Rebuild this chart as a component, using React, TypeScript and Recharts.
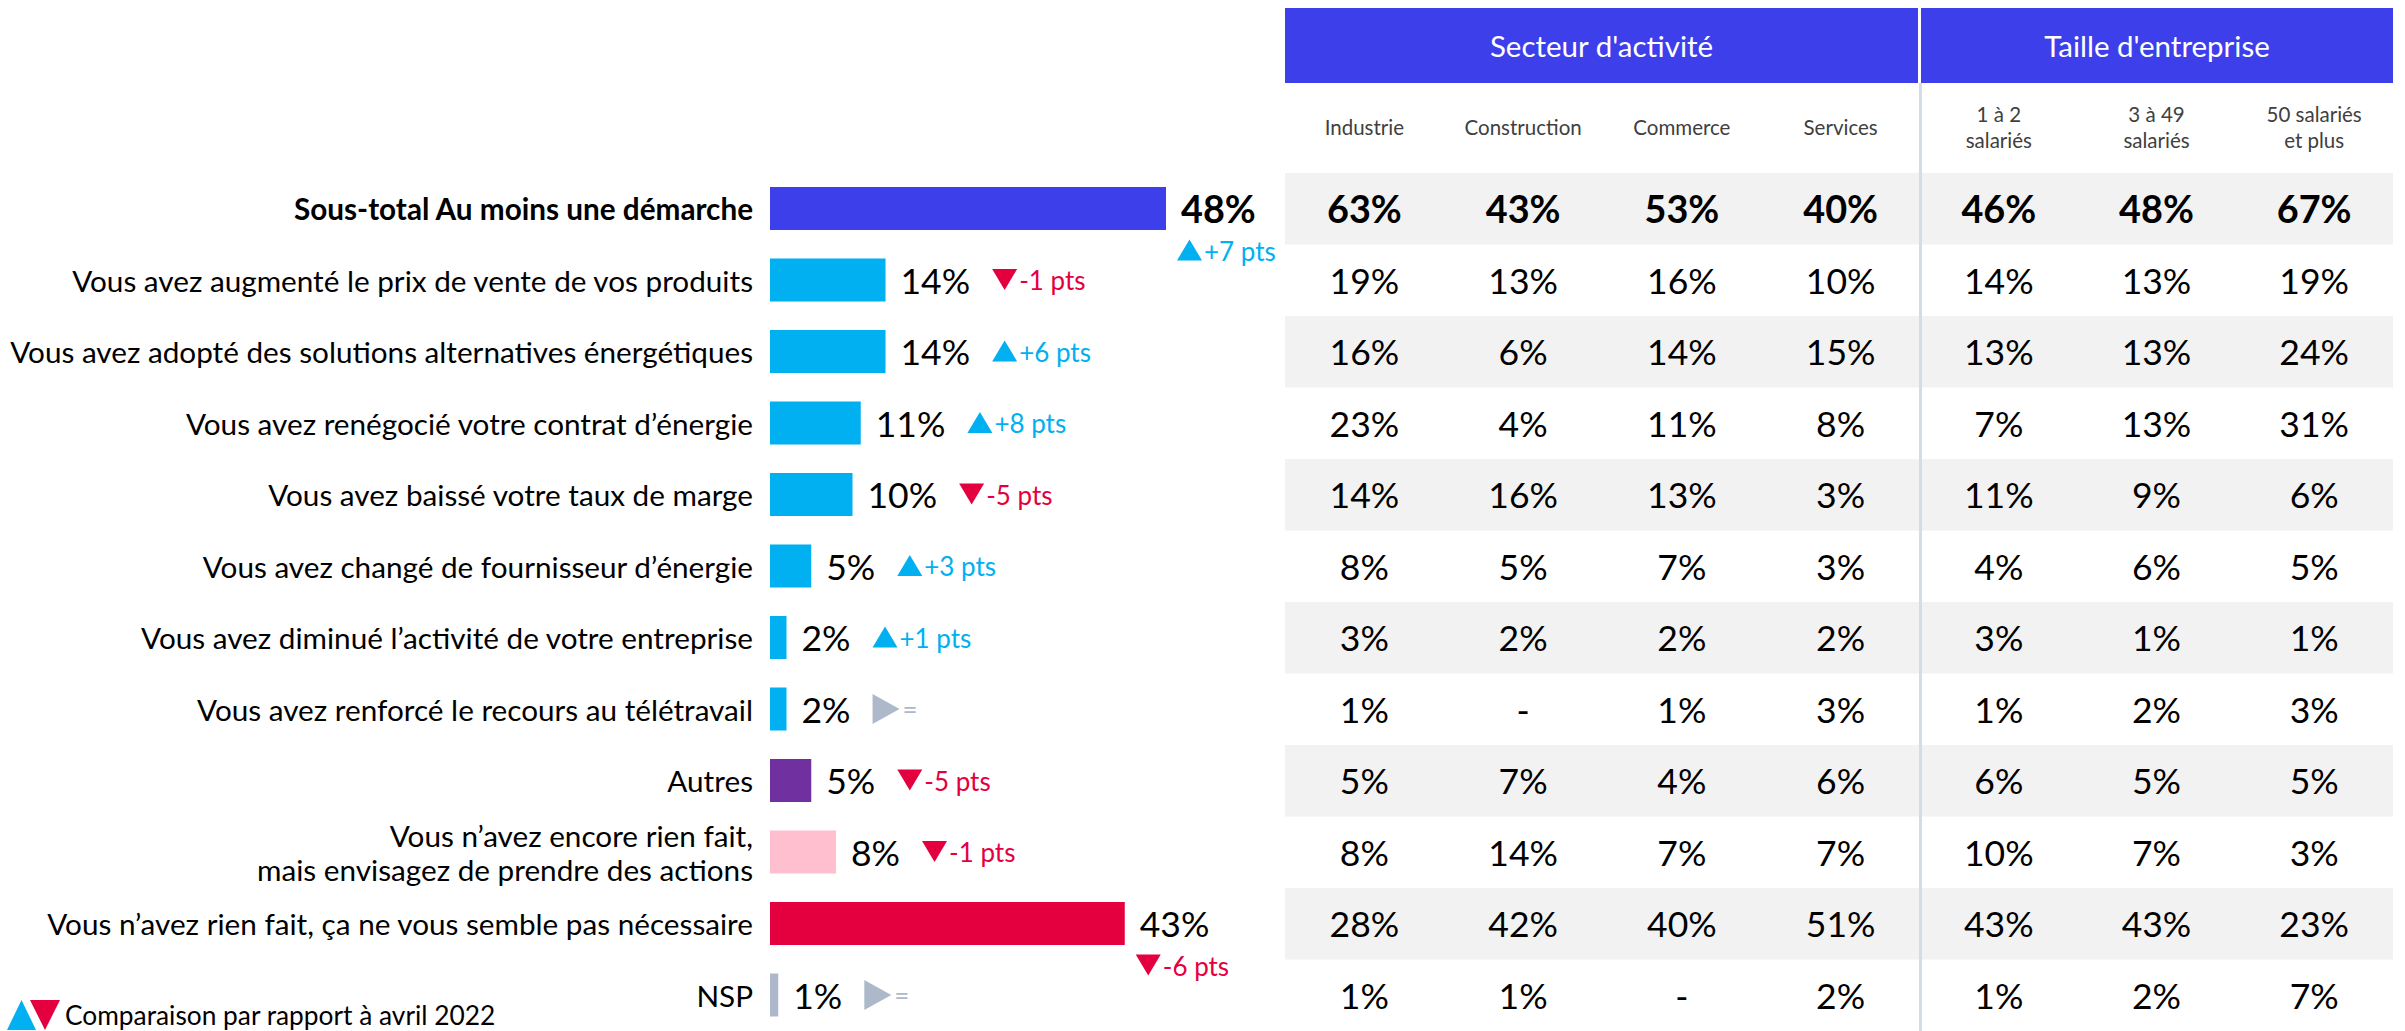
import React from "react";
import { BarChart, Bar, XAxis, YAxis } from "recharts";

const WIDTH = 2405;
const HEIGHT = 1031;
const FONT = "Lato, 'Open Sans', sans-serif";

// ---------- data ----------
const categories = [
  "Sous-total Au moins une démarche",
  "Vous avez augmenté le prix de vente de vos produits",
  "Vous avez adopté des solutions alternatives énergétiques",
  "Vous avez renégocié votre contrat d’énergie",
  "Vous avez baissé votre taux de marge",
  "Vous avez changé de fournisseur d’énergie",
  "Vous avez diminué l’activité de votre entreprise",
  "Vous avez renforcé le recours au télétravail",
  "Autres",
  "Vous n’avez encore rien fait,\nmais envisagez de prendre des actions",
  "Vous n’avez rien fait, ça ne vous semble pas nécessaire",
  "NSP",
];
const totals = [48, 14, 14, 11, 10, 5, 2, 2, 5, 8, 43, 1];
const evolutions = [7, -1, 6, 8, -5, 3, 1, 0, -5, -1, -6, 0];

const groupTitles = ["Secteur d'activité", "Taille d'entreprise"];
const sectorHeaders = [["Industrie"], ["Construction"], ["Commerce"], ["Services"]];
const sizeHeaders = [["1 à 2", "salariés"], ["3 à 49", "salariés"], ["50 salariés", "et plus"]];

const industrie = [63, 19, 16, 23, 14, 8, 3, 1, 5, 8, 28, 1];
const construction = [43, 13, 6, 4, 16, 5, 2, null, 7, 14, 42, 1];
const commerce = [53, 16, 14, 11, 13, 7, 2, 1, 4, 7, 40, null];
const services = [40, 10, 15, 8, 3, 3, 2, 3, 6, 7, 51, 2];
const un_a_deux = [46, 14, 13, 7, 11, 4, 3, 1, 6, 10, 43, 1];
const trois_a_49 = [48, 13, 13, 13, 9, 6, 1, 2, 5, 7, 43, 2];
const cinquante_plus = [67, 19, 24, 31, 6, 5, 1, 3, 5, 3, 23, 7];

const legendText = "Comparaison par rapport à avril 2022";

// ---------- styles ----------
const BLUE = "#3D3FEB";
const CYAN = "#00B0F0";
const RED = "#E4003F";
const PURPLE = "#7030A0";
const PINK = "#FFBFCF";
const GREY = "#ADB9CA";
const BAND = "#F2F2F2";
const DIVIDER = "#D5DCE6";
const BAR_COLORS = [BLUE, CYAN, CYAN, CYAN, CYAN, CYAN, CYAN, CYAN, PURPLE, PINK, RED, GREY];

const FS_LABEL = 29.7;
const FS_VALUE = 35.5;
const FS_VALUE_BOLD = 37.8;
const FS_DELTA = 26;
const FS_SUB = 20.5;
const FS_TITLE = 29.5;
const FS_LEGEND = 26.3;

const sectorColumns = [industrie, construction, commerce, services];
const sizeColumns = [un_a_deux, trois_a_49, cinquante_plus];

const rows = categories.map((label, i) => ({ label, total: totals[i], evolution: evolutions[i] }));

// ---------- layout ----------
const PLOT_TOP = 173;
const PLOT_LEFT = 770;
const PLOT_RIGHT_MARGIN = 810;
const ROW_H = (HEIGHT - PLOT_TOP) / categories.length;
const LABEL_X = 753;
const TABLE_LEFT = 1285;
const TABLE_RIGHT = 2393;
const GROUP_SPLIT = 1920;
const sectorCenters = sectorColumns.map(
  (_, j) => TABLE_LEFT + ((GROUP_SPLIT - TABLE_LEFT) / sectorColumns.length) * (j + 0.5)
);
const sizeCenters = sizeColumns.map(
  (_, j) => GROUP_SPLIT + ((TABLE_RIGHT - GROUP_SPLIT) / sizeColumns.length) * (j + 0.5)
);

let ctx: CanvasRenderingContext2D | null = null;
function measure(text: string, size: number, weight: number) {
  if (!ctx) ctx = document.createElement("canvas").getContext("2d");
  if (!ctx) return text.length * size * 0.5;
  ctx.font = `${weight} ${size}px ${FONT}`;
  return ctx.measureText(text).width;
}

function Delta({ x, y, value }: { x: number; y: number; value: number }) {
  if (value === 0) {
    return (
      <g>
        <path d={`M${x},${y - 15} L${x + 27},${y} L${x},${y + 15} Z`} fill={GREY} />
        <text x={x + 30} y={y} dominantBaseline="central" fontSize={FS_DELTA} fill={GREY} fontFamily={FONT}>
          =
        </text>
      </g>
    );
  }
  const up = value > 0;
  const color = up ? CYAN : RED;
  const tri = up
    ? `M${x},${y + 10} L${x + 25},${y + 10} L${x + 12.5},${y - 11} Z`
    : `M${x},${y - 11} L${x + 25},${y - 11} L${x + 12.5},${y + 10} Z`;
  return (
    <g>
      <path d={tri} fill={color} />
      <text x={x + 27} y={y} dominantBaseline="central" fontSize={FS_DELTA} fill={color} fontFamily={FONT}>
        {`${up ? "+" : "-"}${Math.abs(value)} pts`}
      </text>
    </g>
  );
}

function BarShape(props: any) {
  const { x, y, width, height, payload } = props;
  const i = categories.indexOf(payload.label);
  const cy = y + height / 2;
  const bold = i === 0;
  const vSize = bold ? FS_VALUE_BOLD : FS_VALUE;
  const weight = bold ? 700 : 400;
  const label = `${payload.total}%`;
  const lx = x + width + 15;
  const lw = measure(label, vSize, weight);
  const below = payload.total >= 40;
  const dx = below ? lx - 4 : lx + lw + 22;
  const dy = below ? cy + 42 : cy;
  return (
    <g>
      <rect x={x} y={y} width={width} height={height} fill={BAR_COLORS[i]} />
      <text
        x={lx}
        y={cy}
        dominantBaseline="central"
        fontSize={vSize}
        fontWeight={weight}
        fill="#000"
        fontFamily={FONT}
      >
        {label}
      </text>
      <Delta x={dx} y={dy} value={payload.evolution} />
    </g>
  );
}

function fmt(v: number | null) {
  return v == null ? "-" : `${v}%`;
}

function RowTick(props: any) {
  const { y, payload } = props;
  const i = categories.indexOf(payload.value);
  const bold = i === 0;
  const lines: string[] = String(payload.value).split("\n");
  const cSize = bold ? FS_VALUE_BOLD : FS_VALUE;
  const lineGap = 34;
  const cells = [
    ...sectorColumns.map((col, j) => ({ cx: sectorCenters[j], v: col[i] })),
    ...sizeColumns.map((col, j) => ({ cx: sizeCenters[j], v: col[i] })),
  ];
  return (
    <g>
      {i % 2 === 0 && (
        <rect x={TABLE_LEFT} y={y - ROW_H / 2} width={TABLE_RIGHT - TABLE_LEFT} height={ROW_H} fill={BAND} />
      )}
      {lines.map((ln, k) => (
        <text
          key={k}
          x={LABEL_X}
          y={y + (k - (lines.length - 1) / 2) * lineGap}
          textAnchor="end"
          dominantBaseline="central"
          fontSize={FS_LABEL}
          fontWeight={bold ? 700 : 400}
          fill="#000"
          fontFamily={FONT}
        >
          {ln}
        </text>
      ))}
      {cells.map((c, j) => (
        <text
          key={j}
          x={c.cx}
          y={y}
          textAnchor="middle"
          dominantBaseline="central"
          fontSize={cSize}
          fontWeight={bold ? 700 : 400}
          fill="#000"
          fontFamily={FONT}
        >
          {fmt(c.v)}
        </text>
      ))}
    </g>
  );
}

function SubHeader({ cx, lines }: { cx: number; lines: string[] }) {
  return (
    <div
      style={{
        position: "absolute",
        left: cx - 90,
        width: 180,
        top: 127 - (lines.length * 26) / 2,
        textAlign: "center",
        fontSize: FS_SUB,
        lineHeight: "26px",
        color: "#404040",
      }}
    >
      {lines.map((l, k) => (
        <div key={k}>{l}</div>
      ))}
    </div>
  );
}

const headerStyle: React.CSSProperties = {
  position: "absolute",
  top: 8,
  height: 75,
  background: BLUE,
  color: "#fff",
  fontSize: FS_TITLE,
  display: "flex",
  alignItems: "center",
  justifyContent: "center",
};

export default function App() {
  return (
    <div
      style={{
        position: "absolute",
        left: 0,
        top: 0,
        width: WIDTH,
        height: HEIGHT,
        background: "#fff",
        fontFamily: FONT,
        overflow: "hidden",
      }}
    >
      <BarChart
        width={WIDTH}
        height={HEIGHT}
        data={rows}
        layout="vertical"
        margin={{ top: PLOT_TOP, right: PLOT_RIGHT_MARGIN, bottom: 0, left: 0 }}
      >
        <XAxis type="number" domain={[0, 100]} hide allowDataOverflow />
        <YAxis
          type="category"
          dataKey="label"
          width={PLOT_LEFT}
          axisLine={false}
          tickLine={false}
          interval={0}
          tick={(p: any) => <RowTick {...p} />}
        />
        <Bar dataKey="total" barSize={43} isAnimationActive={false} shape={(p: any) => <BarShape {...p} />} />
      </BarChart>

      {/* group headers */}
      <div style={{ ...headerStyle, left: TABLE_LEFT, width: GROUP_SPLIT - 2 - TABLE_LEFT }}>{groupTitles[0]}</div>
      <div style={{ ...headerStyle, left: GROUP_SPLIT + 1, width: TABLE_RIGHT - GROUP_SPLIT - 1 }}>
        {groupTitles[1]}
      </div>
      {sectorHeaders.map((l, j) => (
        <SubHeader key={`sh${j}`} cx={sectorCenters[j]} lines={l} />
      ))}
      {sizeHeaders.map((l, j) => (
        <SubHeader key={`th${j}`} cx={sizeCenters[j]} lines={l} />
      ))}
      <div
        style={{
          position: "absolute",
          left: GROUP_SPLIT - 1,
          top: 83,
          width: 3,
          height: HEIGHT - 83,
          background: DIVIDER,
        }}
      />

      {/* legend */}
      <svg style={{ position: "absolute", left: 0, top: 990 }} width={560} height={41}>
        <path d="M7,40 L36,40 L21.5,10 Z" fill={CYAN} />
        <path d="M30,10 L60,10 L45,40 Z" fill={RED} />
        <text x={65} y={35} fontSize={FS_LEGEND} fill="#000" fontFamily={FONT}>
          {legendText}
        </text>
      </svg>
    </div>
  );
}
